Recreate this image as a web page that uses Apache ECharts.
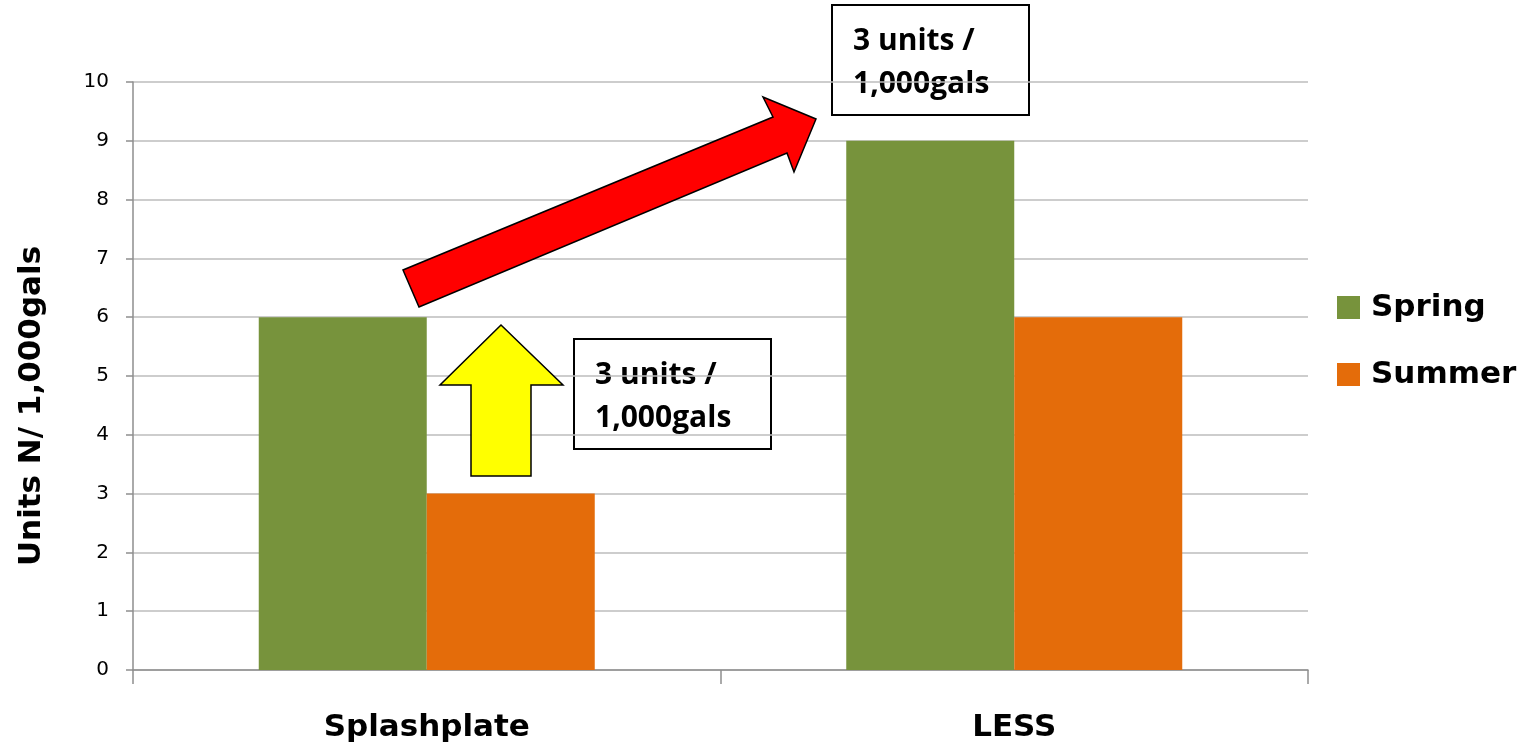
<!DOCTYPE html>
<html>
<head>
<meta charset="utf-8">
<script src="https://cdn.jsdelivr.net/npm/echarts@6/dist/echarts.min.js"></script>
<style>
html,body{margin:0;padding:0;background:#fff;}
#chart{width:1530px;height:747px;}
</style>
</head>
<body>
<div id="chart"></div>
<script>
// ---- data ----
const categories = ['Splashplate', 'LESS'];
const springValues = [6, 9];
const summerValues = [3, 6];
const seriesNames = ['Spring', 'Summer'];
const yAxisName = 'Units N/ 1,000gals';
const yMin = 0, yMax = 10, yInterval = 1;
const noteLines = ['3 units /', '1,000gals'];

// ---- chart ----
const chart = echarts.init(document.getElementById('chart'), null, {renderer: 'canvas'});
const boldFont = 'DejaVu Sans';
const gridColor = '#bcbcbc';
const axisColor = '#8e8e8e';

// annotation shapes (decorative overlays, in pixels)
const redArrow = [[403,270],[419,307],[787,153],[794,172],[816,119],[763,97],[773,117]];
const yellowArrow = [[501,325],[440,385],[471,385],[471,476],[531,476],[531,385],[563,385]];
function noteBox(x, y) {
  return {
    type: 'group', x: x, y: y, z: 100,
    children: [
      {type: 'rect', shape: {x: 0, y: 0, width: 197, height: 110},
       style: {fill: 'none', stroke: '#000', lineWidth: 2}},
      {type: 'text', x: 21, y: 15,
       style: {text: noteLines.join('\n'), font: 'bold 30px "Open Sans"', fill: '#000',
               lineHeight: 43, verticalAlign: 'top', align: 'left'}}
    ]
  };
}

chart.setOption({
  backgroundColor: '#fff',
  animation: false,
  grid: {left: 133, right: 222, top: 82, bottom: 77},
  legend: {
    orient: 'vertical', left: 1332, top: 287,
    itemWidth: 23, itemHeight: 23, itemGap: 36,
    icon: 'rect',
    textStyle: {fontFamily: boldFont, fontWeight: 'bold', fontSize: 31, color: '#000',
                padding: [0, 0, 0, 6], lineHeight: 23},
    data: seriesNames
  },
  xAxis: {
    type: 'category', data: categories,
    axisLine: {lineStyle: {color: axisColor, width: 1.5}},
    axisTick: {show: true, length: 14, lineStyle: {color: axisColor, width: 1.5}},
    axisLabel: {fontFamily: boldFont, fontWeight: 'bold', fontSize: 31, color: '#000',
                margin: 43, lineHeight: 30}
  },
  yAxis: {
    type: 'value', min: yMin, max: yMax, interval: yInterval,
    name: yAxisName, nameLocation: 'middle', nameGap: 86, nameRotate: 90,
    nameTextStyle: {fontFamily: boldFont, fontWeight: 'bold', fontSize: 31, color: '#000',
                    padding: [0, 60, 0, 0]},
    axisLine: {show: true, lineStyle: {color: axisColor, width: 1.5}},
    axisTick: {show: true, length: 7, inside: false, lineStyle: {color: axisColor, width: 1.5}},
    axisLabel: {fontFamily: 'DejaVu Sans', fontSize: 20, color: '#000', margin: 24},
    splitLine: {show: true, lineStyle: {color: gridColor, width: 1.5}}
  },
  series: [
    {name: seriesNames[0], type: 'bar', data: springValues, barWidth: 168, barGap: '0%',
     itemStyle: {color: '#77933C'}},
    {name: seriesNames[1], type: 'bar', data: summerValues, barWidth: 168, barGap: '0%',
     itemStyle: {color: '#E46C0A'}}
  ],
  graphic: [
    {type: 'polygon', z: 100, shape: {points: redArrow},
     style: {fill: '#FF0000', stroke: '#000', lineWidth: 1.5}},
    {type: 'polygon', z: 100, shape: {points: yellowArrow},
     style: {fill: '#FFFF00', stroke: '#000', lineWidth: 1.5}},
    noteBox(574, 339),
    noteBox(832, 5)
  ]
});
</script>
</body>
</html>
